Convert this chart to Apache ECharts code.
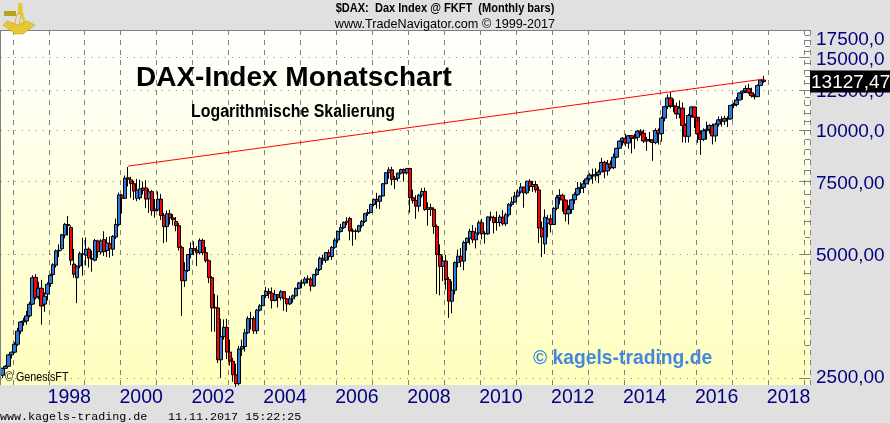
<!DOCTYPE html>
<html>
<head>
<meta charset="utf-8">
<style>
  html, body { margin: 0; padding: 0; background: #e0e0e0; }
  #main { width: 890px; height: 423px; }
</style>
<script src="https://cdn.jsdelivr.net/npm/echarts@6/dist/echarts.min.js"></script>
</head>
<body>
<div id="main"></div>
<script>
// Monatskerzen Sep 1996 - Nov 2017, eine Zeile pro Jahr
const opens = [
  2540,2640,2670,2846,
  2889,3020,3250,3420,3440,3540,3780,4390,3940,4130,3780,4000,
  4240,4460,4700,5090,5150,5560,5900,5800,4730,4380,4680,5000,
  4970,5140,4880,4830,5380,5060,5420,5100,5300,5140,5500,5900,
  6950,6830,7660,7570,7414,6830,6850,7230,7240,6810,7090,6370,
  6400,6800,6210,5830,6260,6120,6000,5860,5188,4308,4560,4989,
  5160,5107,5039,5397,5041,4818,4383,3700,3700,2769,3153,3320,
  2892,2747,2547,2424,2942,2982,3220,3487,3484,3257,3655,3745,
  3965,4058,4018,3856,3985,3921,4052,3895,3785,3893,3960,4126,
  4256,4254,4350,4348,4184,4460,4586,4886,4829,5044,4929,5193,
  5408,5674,5796,5970,6100,5692,5683,5681,5859,6004,6268,6309,
  6597,6789,6715,6917,7409,7884,8007,7584,7638,7861,8019,7870,
  8067,6851,6748,6535,6948,7096,6418,6479,6422,5831,4988,4669,
  4810,4338,3843,4085,4769,4941,4808,5332,5465,5675,5415,5625,
  5957,5608,5598,6153,6136,5964,5966,6148,5925,6229,6601,6688,
  6914,7077,7272,7041,7514,7293,7376,7158,5784,5290,5940,6088,
  5898,6458,6856,6946,6761,6264,6416,6772,6970,7216,7260,7405,
  7612,7776,7742,7795,7914,8348,7959,8276,8103,8594,9033,9405,
  9552,9306,9692,9556,9603,9943,9833,9407,9470,9474,9326,9980,
  9806,10694,11401,11966,11454,11413,10945,11308,10259,9660,10850,11382,
  10743,9798,9495,9965,10039,10262,9680,10337,10592,10511,10665,10640,
  11481,11535,11834,12312,12438,12615,12325,12118,12055,12828,13229
]
const closes = [
  2640,2670,2846,2889,
  3020,3250,3420,3440,3540,3780,4380,3920,4130,3740,3950,4224,
  4440,4710,5090,5110,5570,5900,5860,4830,4470,4670,5010,5002,
  5140,4890,4860,5390,5070,5380,5070,5320,5150,5520,5900,6958,
  6835,7640,7600,7414,7110,7150,7200,7140,6800,7080,6370,6430,
  6795,6208,5830,6264,6120,6058,5861,5188,4308,4559,4989,5160,
  5107,5039,5397,5041,4818,4383,3700,3712,2769,3153,3320,2892,
  2747,2547,2424,2942,2982,3220,3487,3484,3257,3655,3745,3965,
  4058,4018,3856,3985,3921,4052,3895,3785,3893,3960,4126,4256,
  4254,4350,4348,4184,4460,4586,4886,4829,5044,4929,5193,5408,
  5674,5796,5970,6009,5692,5683,5681,5859,6004,6268,6309,6597,
  6789,6715,6917,7409,7884,8007,7584,7638,7861,8019,7870,8067,
  6851,6748,6535,6948,7096,6418,6479,6422,5831,4988,4669,4810,
  4338,3843,4085,4769,4941,4808,5332,5465,5675,5415,5625,5957,
  5608,5598,6153,6136,5964,5966,6148,5925,6229,6601,6688,6914,
  7077,7272,7041,7514,7293,7376,7158,5784,5502,6141,6088,5898,
  6458,6856,6946,6761,6264,6416,6772,6970,7216,7260,7405,7612,
  7776,7742,7795,7914,8348,7959,8276,8103,8594,9033,9405,9552,
  9306,9692,9556,9603,9943,9833,9407,9470,9474,9326,9980,9806,
  10694,11401,11966,11454,11413,10945,11308,10259,9660,10850,11382,10743,
  9798,9495,9965,10039,10262,9680,10337,10592,10511,10665,10640,11481,
  11535,11834,12312,12438,12615,12325,12118,12055,12828,13229,13127
]
const highs = [
  2650,2690,2860,2900,
  3060,3310,3440,3500,3640,3830,4440,4470,4280,4330,4030,4270,
  4480,4750,5130,5280,5600,5950,6190,5870,5150,4700,5070,5480,
  5490,5190,5100,5440,5420,5430,5680,5500,5520,5560,6100,7050,
  7000,7760,8136,7700,7530,7610,7580,7500,7560,7200,7150,6800,
  7100,7000,6290,6380,6400,6250,6150,5950,5240,4780,5000,5340,
  5370,5230,5460,5450,5200,4850,4420,4000,3970,3480,3470,3480,
  3100,2800,2710,2990,3100,3290,3530,3620,3530,3680,3780,3980,
  4160,4130,4150,4090,3990,4090,4060,3880,3960,3990,4150,4280,
  4340,4400,4440,4400,4480,4640,4930,4980,5060,5130,5230,5470,
  5700,5920,6000,6140,6160,5770,5760,5890,6050,6300,6430,6630,
  6820,7040,6950,7440,7890,8130,8150,7740,7890,8060,8070,8100,
  8100,7170,6950,7000,7230,7250,6680,6630,6500,5900,5280,4960,
  4980,4400,4300,4800,5130,5170,5390,5480,5760,5880,5800,6030,
  6090,5680,6170,6340,6200,6350,6230,6390,6300,6650,6880,7080,
  7180,7440,7290,7530,7600,7520,7530,7290,6000,6420,6220,6240,
  6500,6950,7190,7010,6780,6570,6790,7060,7480,7470,7560,7680,
  7870,8060,8080,8010,8560,8420,8460,8430,8770,9050,9430,9620,
  9790,9730,9730,9800,10000,10050,10030,9630,9890,9480,10100,10100,
  10800,11450,12220,12390,11920,11650,11800,11670,10380,10950,11430,11400,
  10490,9990,10100,10490,10340,10370,10420,10800,10800,10830,10800,11480,
  11650,12030,12310,12480,12840,12950,12680,12250,12900,13240,13530
]
const lows = [
  2500,2630,2660,2790,
  2870,2990,3200,3350,3370,3510,3760,3880,3880,3370,3620,3860,
  4160,4420,4640,4920,5100,5460,5550,4700,4380,3800,4620,4430,
  4690,4640,4530,4800,4890,4990,4950,4920,4900,4950,5440,5840,
  6270,6800,7300,6850,6765,6720,6770,6980,6470,6290,6200,6130,
  6350,6050,5316,5350,5900,5870,5680,5100,3540,4160,4520,4880,
  4970,4680,4990,4970,4770,4250,3240,3240,2720,2500,3100,2780,
  2680,2450,2380,2400,2830,2900,3200,3280,3200,3200,3630,3740,
  3910,3900,3690,3840,3710,3860,3640,3620,3760,3810,3940,4110,
  4130,4190,4240,4060,4160,4430,4550,4710,4760,4830,4840,5150,
  5320,5640,5760,5880,5400,5240,5420,5630,5790,5950,6190,6290,
  6530,6450,6430,6910,7400,7620,7350,7200,7500,7800,7500,7800,
  6300,6630,6090,6340,6860,6370,5860,6190,5600,4000,3970,4300,
  4100,3500,3590,3990,4640,4650,4570,5100,5270,5320,5160,5560,
  5430,5300,5570,6020,5610,5700,5830,5860,5850,6160,6520,6670,
  6860,7010,6480,6980,7110,7080,7050,5316,4920,5000,5490,5640,
  5890,6390,6600,6340,6000,5900,6270,6620,6930,7030,7030,7400,
  7540,7410,7540,7430,7900,7640,7760,8030,8040,8550,9000,9160,
  9130,9010,8780,9010,9420,9700,9310,8900,9350,8420,9240,9220,
  9380,10500,11250,11300,11050,10650,10680,9340,9320,9330,10720,10120,
  9310,8700,9400,9480,9800,9230,9370,10200,10200,10300,10170,10600,
  11300,11410,11800,11850,12300,12250,12000,11870,12040,12830,13000
]

// Achsen
const majorTicks = [2500, 5000, 7500, 10000, 12500, 15000, 17500]
const majorLabels = ['2500,00', '5000,00', '7500,00', '10000,0', '12500,0', '15000,0', '17500,0']
const minorTicks = [3000, 3500, 4000, 4500, 5500, 6000, 6500, 7000, 8000, 8500, 9000, 9500,
  10500, 11000, 11500, 12000, 13000, 13500, 14000, 14500, 15500, 16000, 16500, 17000]
const trendLine = [['2000-03', 8177], ['2017-11', 13300]]
const lastPrice = 13127.47

// Monate Sep 1996 bis Feb 2019 (rechts bleibt die Achse leer)
const months = []
for (let y = 1996, m = 9; y < 2019 || m <= 2; m++) {
  if (m > 12) { m = 1; y++ }
  months.push(y + '-' + String(m).padStart(2, '0'))
}
const isJanuary = (i, v) => v.endsWith('-01')
const isEvenYear = (i, v) => v.endsWith('-01') && Number(v.slice(0, 4)) % 2 === 0

const candles = opens.map((o, i) => [o, closes[i], lows[i], highs[i]])

const chart = echarts.init(document.getElementById('main'), null, { renderer: 'canvas' })
const font = 'Liberation Sans'
const labelFont = { color: '#000080', fontFamily: font, fontSize: 19 }
const text = (x, y, str, size, extra, scaleX, z) => ({
  type: 'text', x, y, z: z || 50, scaleX: scaleX || 1, silent: true,
  style: Object.assign({ text: str, fontFamily: font, fontSize: size, fill: '#000', verticalAlign: 'middle' }, extra)
})

chart.setOption({
  animation: false,
  backgroundColor: '#e0e0e0',
  grid: {
    left: 0.8, top: 30, width: 809.2, height: 355,
    show: true, borderWidth: 0,
    backgroundColor: new echarts.graphic.LinearGradient(0, 0, 0, 1, [
      { offset: 0, color: '#ffffff' },
      { offset: 1, color: '#ffffbe' }
    ])
  },
  xAxis: {
    type: 'category', data: months, boundaryGap: true,
    axisLine: { show: false },
    axisTick: { show: false },
    splitLine: { show: true, interval: isJanuary, lineStyle: { color: '#808080', width: 1, type: [5, 5] } },
    axisLabel: Object.assign({}, labelFont, {
      interval: isEvenYear, fontSize: 19.5, margin: 3,
      padding: [0, 0, 0, 38], hideOverlap: false,
      formatter: v => v.slice(0, 4)
    })
  },
  yAxis: [
    {
      type: 'log', logBase: 10, min: 2405, max: 17500, position: 'right',
      axisLine: { show: false },
      axisTick: { show: true, inside: true, length: 10, customValues: majorTicks, lineStyle: { color: '#808080' } },
      splitLine: { show: true, lineStyle: { color: '#808080', type: [1, 6] } },
      axisLabel: Object.assign({}, labelFont, {
        margin: 6,
        customValues: majorTicks, showMinLabel: true, showMaxLabel: true, verticalAlignMaxLabel: 'top',
        rich: { edge: labelFont, mid: Object.assign({ padding: [4, 0, 0, 0] }, labelFont) },
        formatter: v => {
          const t = Math.round(v)
          return (t === 2500 || t === 17500 ? '{edge|' : '{mid|') + majorLabels[majorTicks.indexOf(t)] + '}'
        }
      })
    },
    {
      type: 'log', logBase: 10, min: 2405, max: 17500, position: 'right',
      axisLine: { show: false },
      axisTick: { show: true, inside: true, length: 5, customValues: minorTicks, lineStyle: { color: '#808080' } },
      splitLine: { show: false },
      axisLabel: { show: false }
    }
  ],
  series: [
    {
      type: 'candlestick', data: candles, barWidth: 4,
      itemStyle: { color: '#2b78dc', color0: '#ff0000', borderColor: '#000', borderColor0: '#000', borderWidth: 1 }
    },
    {
      type: 'line', data: trendLine, showSymbol: false, z: 5,
      lineStyle: { color: '#ff0000', width: 1 }
    }
  ]
})

const priceY = chart.convertToPixel({ yAxisIndex: 0 }, lastPrice)

chart.setOption({
  graphic: [
    // Rahmen links und oben
    { type: 'line', z: 40, silent: true, shape: { x1: 0.5, y1: 30, x2: 0.5, y2: 385 }, style: { stroke: '#808080', lineWidth: 1 } },
    { type: 'line', z: 40, silent: true, shape: { x1: 0, y1: 30.5, x2: 810, y2: 30.5 }, style: { stroke: '#808080', lineWidth: 1 } },

    text(445, 9, '$DAX:  Dax Index @ FKFT  (Monthly bars)', 12, { fontWeight: 'bold', align: 'center' }, 0.92),
    text(445, 24, 'www.TradeNavigator.com © 1999-2017', 13.5, { align: 'center' }, 0.936),
    text(136, 78, 'DAX-Index Monatschart', 28, { fontWeight: 'bold' }),
    text(191, 112, 'Logarithmische Skalierung', 18, { fontWeight: 'bold' }, 0.883),
    text(533, 359, '© kagels-trading.de', 19.3, { fontWeight: 'bold', fill: '#4488dd' }),
    text(5, 378, '© GenesisFT', 12.5, {}, 0.86),
    text(0, 417, 'www.kagels-trading.de', 11.7, { fontFamily: 'Liberation Mono' }),
    text(168, 417, '11.11.2017 15:22:25', 11.7, { fontFamily: 'Liberation Mono' }),

    // Kursbox rechts
    { type: 'rect', z: 60, silent: true, shape: { x: 810, y: priceY - 11, width: 80, height: 22 }, style: { fill: '#000' } },
    text(811, priceY + 1, '13127,47', 19, { fill: '#fff' }, 1, 61),

    // Sextant
    { type: 'group', z: 70, silent: true, children: [
      { type: 'rect', z: 70, shape: { x: 4, y: 11, width: 12, height: 5 }, style: { fill: '#b8a020' } },
      { type: 'polygon', z: 70, shape: { points: [[18, 3], [22, 3], [23, 12], [27, 27], [24, 28], [21, 14], [18, 14]] }, style: { fill: '#e8c830' } },
      { type: 'polygon', z: 70, shape: { points: [[17, 14], [21, 14], [19, 26], [14, 26]] }, style: { fill: 'none', stroke: '#d8b820', lineWidth: 1 } },
      { type: 'polygon', z: 70, shape: { points: [[3, 25], [7, 21], [18, 25], [27, 21], [35, 25], [27, 31], [23, 34], [15, 34], [11, 31]] }, style: { fill: '#e8c830', stroke: '#b89818', lineWidth: 0.5 } }
    ] }
  ]
})
</script>
</body>
</html>
